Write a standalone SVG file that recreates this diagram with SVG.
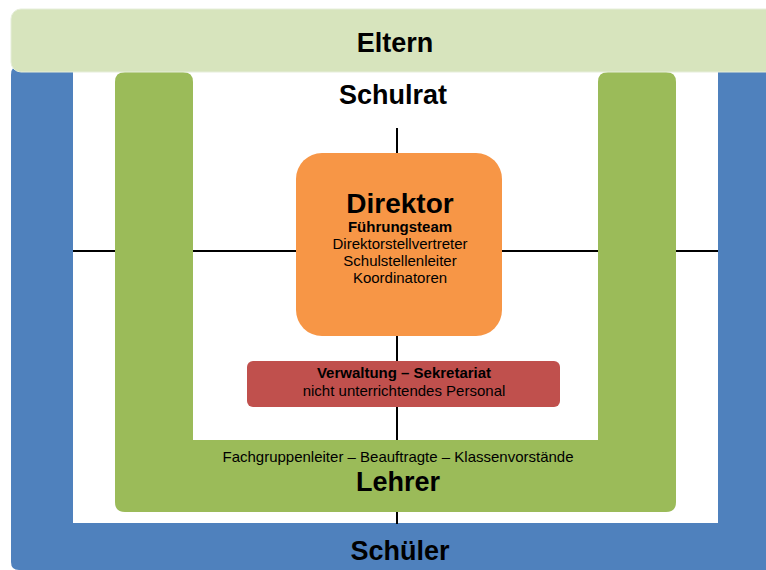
<svg xmlns="http://www.w3.org/2000/svg" width="766" height="570" viewBox="0 0 766 570">
<style>
text{font-family:"Liberation Sans",Arial,sans-serif;fill:#000;text-anchor:middle}
.big{font-size:27px;font-weight:bold}
.b{font-weight:bold}
.s{font-size:15px}
.conn line{stroke:#000;stroke-width:2}
</style>
<rect width="766" height="570" fill="#fff"/>
<g id="schueler">
<path d="M11,75 Q11,65 21,65 L73,65 L73,523 L718,523 L718,65 L766,65 L766,570 L19,570 Q11,570 11,562 Z" fill="#4F81BD"/>
<text class="big" x="400" y="560">Schüler</text>
</g>
<g class="conn" id="connectors">
<line x1="397" y1="128" x2="397" y2="154"/>
<line x1="397" y1="335" x2="397" y2="362"/>
<line x1="397" y1="406" x2="397" y2="441"/>
<line x1="397" y1="511" x2="397" y2="524"/>
<line x1="73" y1="251" x2="297" y2="251"/>
<line x1="501" y1="251" x2="718" y2="251"/>
</g>
<g id="lehrer">
<path d="M125,72 L183,72 Q193,72 193,82 L193,440 L598,440 L598,82 Q598,72 608,72 L666,72 Q676,72 676,82 L676,502 Q676,512 666,512 L125,512 Q115,512 115,502 L115,82 Q115,72 125,72 Z" fill="#9BBB59"/>
<text class="s" x="398" y="462">Fachgruppenleiter – Beauftragte – Klassenvorstände</text>
<text class="big" x="398" y="491">Lehrer</text>
</g>
<g id="eltern">
<rect x="11" y="9" width="800" height="63" rx="10" fill="#D7E4BD" stroke="#E6EEDA" stroke-width="1"/>
<text class="big" x="395" y="52">Eltern</text>
</g>
<g id="schulrat">
<text class="big" x="393" y="104">Schulrat</text>
</g>
<g id="direktor">
<rect x="296" y="153" width="206" height="183" rx="26" fill="#F79646"/>
<text class="big" x="400" y="213" style="font-size:28px">Direktor</text>
<text class="s b" x="400" y="232">Führungsteam</text>
<text class="s" x="400" y="249">Direktorstellvertreter</text>
<text class="s" x="400" y="266">Schulstellenleiter</text>
<text class="s" x="400" y="283">Koordinatoren</text>
</g>
<g id="verwaltung">
<rect x="247" y="361" width="313" height="46" rx="6" fill="#C0504D"/>
<text class="s b" x="404" y="378">Verwaltung – Sekretariat</text>
<text class="s" x="404" y="396">nicht unterrichtendes Personal</text>
</g>
</svg>
